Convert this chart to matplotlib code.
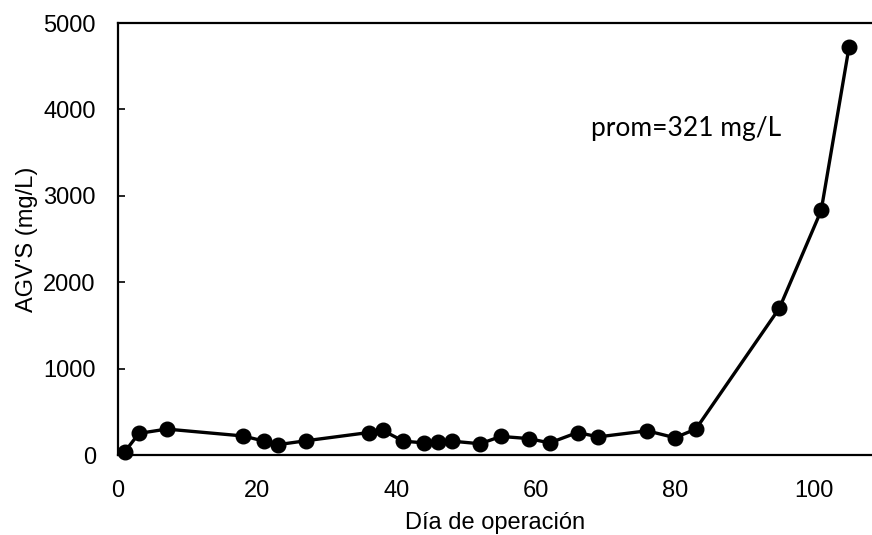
import matplotlib.pyplot as plt
import numpy as np

# AGV's measured over the operation days
dias = [1, 3, 7, 18, 21, 23, 27, 36, 38, 41, 44, 46, 48, 52, 55, 59, 62, 66, 69, 76, 80, 83, 95, 101, 105]
agv = [40, 250, 300, 220, 160, 120, 165, 260, 285, 160, 140, 155, 160, 130, 215, 190, 140, 260, 210, 280, 200, 300, 1700, 2830, 4720]

plt.rcParams['font.family'] = ['Liberation Sans', 'DejaVu Sans']

fig = plt.figure(figsize=(8.72, 5.35), dpi=100)
ax = fig.add_axes([118 / 872, 80 / 535, 754 / 872, 432 / 535])

ax.plot(dias, agv, color='black', lw=2.4, marker='o', ms=10.5, mfc='black', mec='black', clip_on=False, zorder=3)

ax.set_xlim(0, 108.3)
ax.set_ylim(0, 5000)
ax.set_xticks(np.arange(0, 101, 20))
ax.set_yticks(np.arange(0, 5001, 1000))

for s in ['left', 'top', 'bottom']:
    ax.spines[s].set_linewidth(1.6)
    ax.spines[s].set_color('black')
ax.spines['right'].set_visible(False)

ax.tick_params(axis='x', length=0, pad=18, labelsize=17)
ax.tick_params(axis='y', direction='in', length=5, width=1.2, pad=16, labelsize=17)

ax.set_xlabel('Día de operación', fontsize=17, labelpad=7)
ax.set_ylabel("AGV'S (mg/L)", fontsize=17, labelpad=4)

ax.text(68, 3780, 'prom=321 mg/L', fontsize=19, family=['Lato', 'DejaVu Sans'], va='center', ha='left')

fig.savefig('out.png', dpi=100)
